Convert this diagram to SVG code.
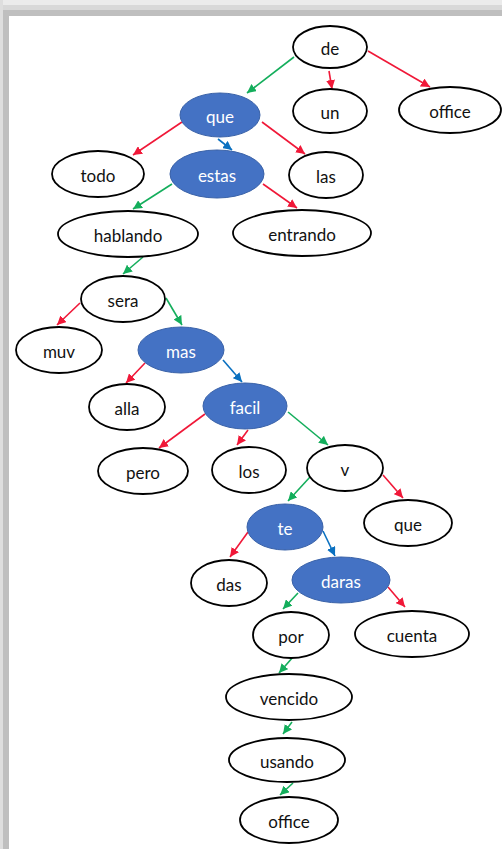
<svg xmlns="http://www.w3.org/2000/svg" width="502" height="849" viewBox="0 0 502 849">
<style>
.n{fill:#fff;stroke:#000;stroke-width:1.8}
.b{fill:#4472c4;stroke:#3a62a8;stroke-width:1}
.t{font-family:Lato,"Open Sans",sans-serif;font-size:17px;text-anchor:middle;fill:#111}
.tw{fill:#fff}
.g{stroke:#14ae5c;stroke-width:1.6;fill:none;marker-end:url(#ag)}
.r{stroke:#f01838;stroke-width:1.6;fill:none;marker-end:url(#ar)}
.u{stroke:#0a70c0;stroke-width:1.6;fill:none;marker-end:url(#au)}
</style>
<defs>
<marker id="ag" viewBox="0 0 10 10" refX="10" refY="5" markerWidth="9" markerHeight="9" markerUnits="userSpaceOnUse" orient="auto"><path d="M0,0 L10,5 L0,10 z" fill="#14ae5c"/></marker>
<marker id="ar" viewBox="0 0 10 10" refX="10" refY="5" markerWidth="9" markerHeight="9" markerUnits="userSpaceOnUse" orient="auto"><path d="M0,0 L10,5 L0,10 z" fill="#f01838"/></marker>
<marker id="au" viewBox="0 0 10 10" refX="10" refY="5" markerWidth="9" markerHeight="9" markerUnits="userSpaceOnUse" orient="auto"><path d="M0,0 L10,5 L0,10 z" fill="#0a70c0"/></marker>
</defs>
<rect x="0" y="0" width="502" height="849" fill="#fff"/>
<g id="frame">
<rect x="0" y="0" width="502" height="5" fill="#ebebeb"/>
<rect x="0" y="5" width="502" height="5" fill="#d8d8d8"/>
<rect x="0" y="10" width="502" height="6" fill="#bfbfbf"/>
<rect x="0" y="0" width="3" height="849" fill="#dedede"/>
<rect x="3" y="10" width="6" height="839" fill="#bfbfbf"/>
</g>
<g id="connectors">
<line class="g" x1="294" y1="57" x2="247" y2="93"/>
<line class="r" x1="329" y1="71" x2="332" y2="89"/>
<line class="r" x1="368" y1="51" x2="430" y2="87"/>
<line class="r" x1="182" y1="122" x2="133" y2="155"/>
<line class="u" x1="218" y1="139" x2="232" y2="150"/>
<line class="r" x1="262" y1="122" x2="305" y2="154"/>
<line class="g" x1="172" y1="184" x2="133" y2="209"/>
<line class="r" x1="263" y1="184" x2="297" y2="208"/>
<line class="g" x1="143" y1="257" x2="123" y2="274"/>
<line class="r" x1="80" y1="303" x2="57" y2="325"/>
<line class="g" x1="166" y1="298" x2="182" y2="325"/>
<line class="r" x1="145" y1="363" x2="126" y2="383"/>
<line class="u" x1="223" y1="360" x2="242" y2="382"/>
<line class="r" x1="205" y1="414" x2="159" y2="448"/>
<line class="r" x1="248" y1="430" x2="237" y2="445"/>
<line class="g" x1="288" y1="412" x2="328" y2="445"/>
<line class="g" x1="310" y1="477" x2="288" y2="501"/>
<line class="r" x1="383" y1="475" x2="403" y2="498"/>
<line class="r" x1="248" y1="532" x2="230" y2="557"/>
<line class="u" x1="323" y1="531" x2="335" y2="556"/>
<line class="g" x1="298" y1="593" x2="283" y2="609"/>
<line class="r" x1="388" y1="587" x2="405" y2="607"/>
<line class="g" x1="293" y1="657" x2="279" y2="673"/>
<line class="g" x1="292" y1="722" x2="283" y2="734"/>
<line class="g" x1="293" y1="783" x2="280" y2="795"/>
</g>
<g id="n-de"><ellipse class="n" cx="330" cy="47" rx="37" ry="21"/><text class="t" x="330" y="55">de</text></g>
<g id="n-un"><ellipse class="n" cx="330" cy="111" rx="37" ry="22"/><text class="t" x="330" y="119">un</text></g>
<g id="n-office1"><ellipse class="n" cx="450" cy="110" rx="51" ry="23"/><text class="t" x="450" y="118">office</text></g>
<g id="n-que1"><ellipse class="b" cx="220" cy="115" rx="40" ry="22"/><text class="t tw" x="220" y="123">que</text></g>
<g id="n-todo"><ellipse class="n" cx="98" cy="174" rx="46" ry="23"/><text class="t" x="98" y="182">todo</text></g>
<g id="n-estas"><ellipse class="b" cx="217" cy="174" rx="47" ry="24"/><text class="t tw" x="217" y="182">estas</text></g>
<g id="n-las"><ellipse class="n" cx="326" cy="175" rx="37" ry="23"/><text class="t" x="326" y="183">las</text></g>
<g id="n-hablando"><ellipse class="n" cx="128" cy="234" rx="70" ry="23"/><text class="t" x="128" y="242">hablando</text></g>
<g id="n-entrando"><ellipse class="n" cx="302" cy="233" rx="69" ry="23"/><text class="t" x="302" y="241">entrando</text></g>
<g id="n-sera"><ellipse class="n" cx="123" cy="299" rx="42" ry="23"/><text class="t" x="123" y="307">sera</text></g>
<g id="n-muv"><ellipse class="n" cx="59" cy="350" rx="43" ry="23"/><text class="t" x="59" y="358">muv</text></g>
<g id="n-mas"><ellipse class="b" cx="181" cy="350" rx="43" ry="23"/><text class="t tw" x="181" y="358">mas</text></g>
<g id="n-alla"><ellipse class="n" cx="127" cy="407" rx="38" ry="23"/><text class="t" x="127" y="415">alla</text></g>
<g id="n-facil"><ellipse class="b" cx="245" cy="406" rx="42" ry="23"/><text class="t tw" x="245" y="414">facil</text></g>
<g id="n-pero"><ellipse class="n" cx="143" cy="471" rx="45" ry="23"/><text class="t" x="143" y="479">pero</text></g>
<g id="n-los"><ellipse class="n" cx="249" cy="470" rx="37" ry="23"/><text class="t" x="249" y="478">los</text></g>
<g id="n-v"><ellipse class="n" cx="345" cy="468" rx="38" ry="23"/><text class="t" x="345" y="476">v</text></g>
<g id="n-te"><ellipse class="b" cx="285" cy="527" rx="38" ry="23"/><text class="t tw" x="285" y="535">te</text></g>
<g id="n-que2"><ellipse class="n" cx="408" cy="523" rx="44" ry="23"/><text class="t" x="408" y="531">que</text></g>
<g id="n-das"><ellipse class="n" cx="229" cy="583" rx="38" ry="23"/><text class="t" x="229" y="591">das</text></g>
<g id="n-daras"><ellipse class="b" cx="341" cy="580" rx="49" ry="23"/><text class="t tw" x="341" y="588">daras</text></g>
<g id="n-por"><ellipse class="n" cx="291" cy="635" rx="38" ry="23"/><text class="t" x="291" y="643">por</text></g>
<g id="n-cuenta"><ellipse class="n" cx="412" cy="634" rx="57" ry="23"/><text class="t" x="412" y="642">cuenta</text></g>
<g id="n-vencido"><ellipse class="n" cx="289" cy="697" rx="63" ry="23"/><text class="t" x="289" y="705">vencido</text></g>
<g id="n-usando"><ellipse class="n" cx="287" cy="760" rx="58" ry="22"/><text class="t" x="287" y="768">usando</text></g>
<g id="n-office2"><ellipse class="n" cx="289" cy="820" rx="49" ry="23"/><text class="t" x="289" y="828">office</text></g>
</svg>
